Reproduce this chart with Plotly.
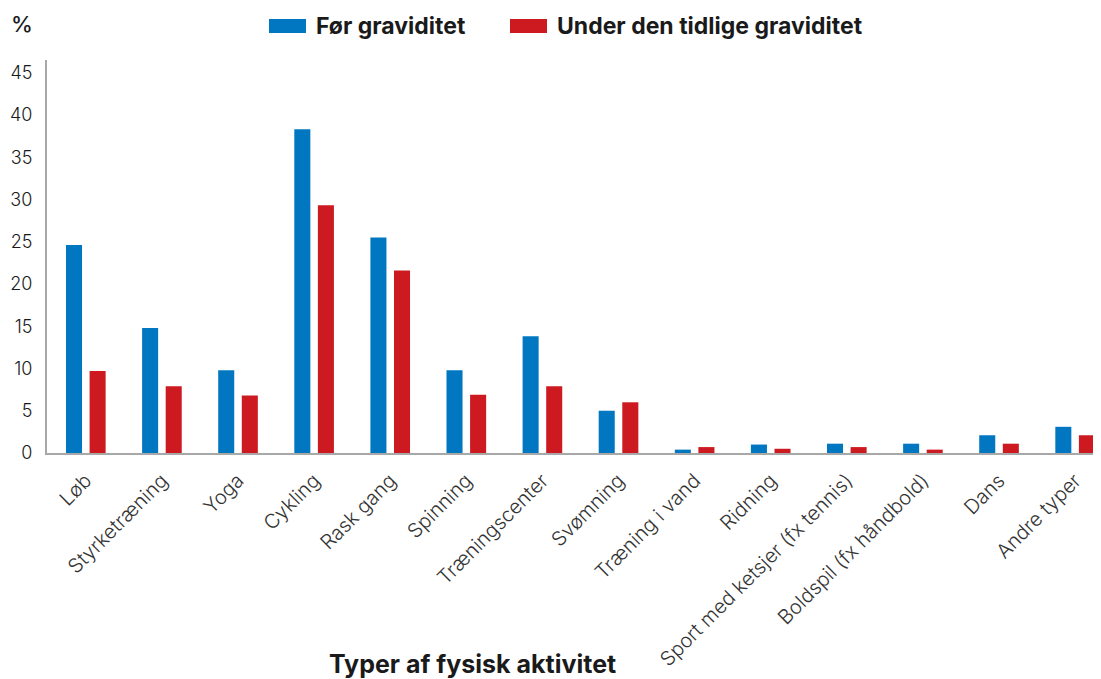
import plotly.graph_objects as go

# Data
categories = [
    "Løb", "Styrketræning", "Yoga", "Cykling", "Rask gang", "Spinning",
    "Træningscenter", "Svømning", "Træning i vand", "Ridning",
    "Sport med ketsjer (fx tennis)", "Boldspil (fx håndbold)", "Dans", "Andre typer",
]
before_pregnancy = [24.6, 14.8, 9.8, 38.3, 25.5, 9.8, 13.8, 5.0, 0.4, 1.0, 1.1, 1.1, 2.1, 3.1]
early_pregnancy = [9.7, 7.9, 6.8, 29.3, 21.6, 6.9, 7.9, 6.0, 0.7, 0.5, 0.7, 0.4, 1.1, 2.1]

series_names = ["Før graviditet", "Under den tidlige graviditet"]

BLUE = "#0077C0"
RED = "#CC1A20"
AXIS_GREY = "#A8A8A8"
TEXT = "#1A1A1A"
FONT = "Inter, sans-serif"

# page body has an 8px margin, so the figure is drawn 8px smaller and
# target pixel positions are shifted by that offset
OFF = 8
W, H = 1101 - OFF, 679 - OFF
# plot area in target-page pixels (left, right, top, bottom)
L, R, T, B = 47, 1101, 60, 453
PW, PH = R - L, B - T

fig = go.Figure()
fig.add_trace(go.Bar(x=categories, y=before_pregnancy, name=series_names[0],
                     marker=dict(color=BLUE, line=dict(width=0))))
fig.add_trace(go.Bar(x=categories, y=early_pregnancy, name=series_names[1],
                     marker=dict(color=RED, line=dict(width=0))))

fig.update_layout(
    width=W, height=H,
    margin=dict(l=L - OFF, r=1101 - R, t=T - OFF, b=679 - B),
    paper_bgcolor="white", plot_bgcolor="white",
    barmode="group", bargap=0.38, bargroupgap=0.32,
    showlegend=False,
    font=dict(family=FONT, color=TEXT),
)

fig.update_xaxes(
    range=[-0.51, 13.34], automargin=False,
    showline=True, linecolor=AXIS_GREY, linewidth=2,
    showgrid=False, zeroline=False, ticks="",
    tickangle=-45, tickfont=dict(size=20, color="#333333", weight=300),
    ticklabelstandoff=6,
)
fig.update_yaxes(
    range=[0, 46.5], automargin=False,
    tickvals=list(range(0, 50, 5)),
    showline=True, linecolor=AXIS_GREY, linewidth=2,
    showgrid=False, zeroline=False, ticks="",
    tickfont=dict(size=18, color=TEXT, weight=300),
    ticklabelstandoff=9,
)


def px(x):
    return (x - L) / PW


def py(y):
    return (B - y) / PH


# "%" unit label and x title
fig.add_annotation(text="%", xref="paper", yref="paper", x=px(22), y=py(24),
                   xanchor="center", yanchor="middle", showarrow=False,
                   font=dict(size=22, color=TEXT, family=FONT, weight=500))
fig.add_annotation(text="<b>Typer af fysisk aktivitet</b>", xref="paper", yref="paper",
                   x=px(472), y=py(664),
                   xanchor="center", yanchor="middle", showarrow=False,
                   font=dict(size=25, color=TEXT, family=FONT))

# Legend drawn by hand to match the wide swatches
legend_items = [(series_names[0], BLUE, 269), (series_names[1], RED, 510)]
for name, color, x0 in legend_items:
    fig.add_shape(type="rect", xref="paper", yref="paper",
                  x0=px(x0), x1=px(x0 + 37), y0=py(33), y1=py(19),
                  fillcolor=color, line=dict(width=0))
    fig.add_annotation(text=f"<b>{name}</b>", xref="paper", yref="paper",
                       x=px(x0 + 45), y=py(26),
                       xanchor="left", yanchor="middle", showarrow=False,
                       font=dict(size=23, color=TEXT, family=FONT))

fig.write_html("out.html")
